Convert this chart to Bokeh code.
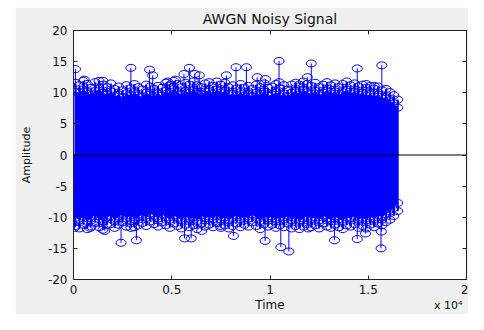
from bokeh.plotting import figure
from bokeh.models import Range1d, LinearAxis, FixedTicker, Span, Title, ColumnDataSource
from bokeh.embed import file_html
from bokeh.resources import INLINE

# ---------------- data ----------------
title = "AWGN Noisy Signal"
x_label = "Time"
y_label = "Amplitude"
x_exponent = "x 10\u2074"
x_ticks = [0, 5000, 10000, 15000, 20000]
x_tick_labels = ["0", "0.5", "1", "1.5", "2"]
y_ticks = [-20, -15, -10, -5, 0, 5, 10, 15, 20]
y_tick_labels = ["-20", "-15", "-10", "-5", "0", "5", "10", "15", "20"]

# sample positions of the dense body of the signal (one every 200 samples)
band_t = list(range(100, 16600, 200))
# outer ring of stem tips (upper / lower edge of the cloud)
upper_tip = [
    11.6, 11.2, 11.9, 11.4, 10.8, 11.7, 11.9, 11.3, 10.9, 11.5,
    10.6, 11.0, 10.4, 11.2, 10.7, 11.4, 10.9, 10.5, 11.3, 11.0,
    10.6, 11.1, 10.8, 11.6, 11.2, 11.9, 11.4, 10.9, 11.6, 11.3,
    11.8, 11.2, 10.9, 11.5, 11.7, 11.1, 11.8, 11.3, 11.6, 10.9,
    11.2, 10.7, 11.4, 10.8, 11.1, 10.6, 11.3, 10.9, 11.5, 10.8,
    11.0, 11.4, 10.7, 11.2, 10.5, 11.3, 11.6, 11.0, 11.8, 11.4,
    11.1, 11.6, 10.9, 11.3, 11.7, 11.2, 11.5, 10.9, 11.4, 11.8,
    11.2, 11.5, 11.0, 11.3, 10.8, 11.1, 10.7, 11.0, 10.4, 10.6,
    10.1, 9.6, 8.9]
lower_tip = [
    -11.4, -11.8, -11.2, -11.9, -11.5, -10.9, -11.6, -12.0, -11.3, -11.1,
    -11.7, -11.2, -10.8, -11.5, -11.0, -11.6, -11.3, -10.9, -11.4, -10.7,
    -11.1, -11.5, -10.8, -11.3, -11.7, -11.0, -11.4, -11.8, -11.2, -11.6,
    -11.3, -11.9, -11.0, -11.5, -11.2, -11.6, -10.9, -11.7, -11.3, -11.8,
    -11.4, -11.0, -11.6, -11.2, -11.5, -10.8, -11.4, -11.9, -11.1, -11.5,
    -11.2, -11.7, -11.3, -11.6, -11.0, -11.8, -11.4, -11.9, -11.5, -11.1,
    -11.6, -11.3, -11.8, -11.0, -11.5, -11.7, -11.2, -11.6, -11.9, -11.3,
    -11.5, -11.1, -11.7, -11.4, -11.8, -11.2, -11.6, -11.0, -11.3, -10.8,
    -10.4, -9.8, -9.0]
# inner (densely filled) part of the cloud
upper_inner = [
    10.2, 10.0, 10.5, 10.1, 9.6, 10.3, 10.6, 10.0, 9.7, 10.2,
    9.4, 9.7, 9.2, 9.9, 9.5, 10.1, 9.6, 9.3, 10.0, 9.7,
    9.3, 9.9, 9.5, 10.3, 9.9, 10.6, 10.1, 9.7, 10.3, 10.0,
    10.5, 9.9, 9.7, 10.2, 10.4, 9.8, 10.5, 10.0, 10.3, 9.6,
    9.9, 9.5, 10.1, 9.5, 9.8, 9.4, 10.0, 9.6, 10.2, 9.5,
    9.7, 10.1, 9.4, 9.9, 9.3, 10.0, 10.3, 9.7, 10.5, 10.1,
    9.8, 10.3, 9.6, 10.0, 10.4, 9.9, 10.2, 9.6, 10.1, 10.5,
    9.9, 10.2, 9.7, 10.0, 9.5, 9.8, 9.4, 9.7, 9.1, 9.3,
    8.8, 8.3, 7.6]
lower_inner = [
    -10.1, -10.5, -9.9, -10.6, -10.2, -9.6, -10.3, -10.7, -10.0, -9.8,
    -10.4, -9.9, -9.5, -10.2, -9.7, -10.3, -10.0, -9.6, -10.1, -9.4,
    -9.8, -10.2, -9.5, -10.0, -10.4, -9.7, -10.1, -10.5, -9.9, -10.3,
    -10.0, -10.6, -9.7, -10.2, -9.9, -10.3, -9.6, -10.4, -10.0, -10.5,
    -10.1, -9.7, -10.3, -9.9, -10.2, -9.5, -10.1, -10.6, -9.8, -10.2,
    -9.9, -10.4, -10.0, -10.3, -9.7, -10.5, -10.1, -10.6, -10.2, -9.8,
    -10.3, -10.0, -10.5, -9.7, -10.2, -10.4, -9.9, -10.3, -10.6, -10.0,
    -10.2, -9.8, -10.4, -10.1, -10.5, -9.9, -10.3, -9.7, -10.0, -9.5,
    -9.1, -8.5, -7.7]

# isolated large stems sticking out of the cloud
peak_t = [100, 550, 1500, 2920, 3870, 4030, 4790, 5190, 5620, 5900,
          6180, 6400, 7780, 8270, 8800, 9350, 9770, 10460, 10460, 11490,
          11900, 12100, 14440, 15690, 14900, 15300,
          50, 850, 1590, 2420, 2920, 3200, 5650, 5990, 6520, 7480,
          8140, 9750, 10550, 10960, 11950, 13280, 14440, 14860, 15650, 15670]
peak_amp = [13.8, 12.1, 11.9, 14.0, 13.7, 12.8, 11.8, 12.1, 13.0, 14.0,
            13.0, 12.8, 12.8, 14.1, 14.1, 12.5, 12.2, 15.1, 11.7, 11.3,
            12.5, 14.7, 13.9, 14.4, 11.4, 11.1,
            -11.7, -11.7, -12.2, -14.1, -11.7, -13.7, -13.4, -13.4, -12.2, -11.4,
            -13.0, -13.8, -14.8, -15.5, -11.8, -13.7, -13.5, -12.6, -15.0, -12.3]

# ---------------- styling ----------------
BLUE = "#0000ff"
FONT = "DejaVu Sans"
TXT = "#111111"
AXC = "#222222"

p = figure(width=453, height=307, output_backend="svg", toolbar_location=None,
           x_range=Range1d(0, 20000), y_range=Range1d(-20, 20),
           min_border_left=58, min_border_right=2, min_border_top=22,
           min_border_bottom=34)
p.margin = (7, 0, 0, 15)
p.background_fill_color = "white"
p.border_fill_color = "#f0f0f0"
p.outline_line_color = AXC
p.grid.visible = False

band = ColumnDataSource(dict(t=band_t, hi=upper_tip, lo=lower_tip,
                             ihi=upper_inner, ilo=lower_inner,
                             zero=[0] * len(band_t)))
peaks = ColumnDataSource(dict(t=peak_t, amp=peak_amp, zero=[0] * len(peak_t)))

# dense body
p.varea(x="t", y1="ilo", y2="ihi", source=band, fill_color=BLUE)
for col in ("ihi", "ilo"):
    p.ellipse(x="t", y=col, width=10, height=7, width_units="screen",
              height_units="screen", source=band, fill_alpha=0,
              line_color=BLUE, line_width=1)
for col in ("hi", "lo"):
    p.segment(x0="t", y0="zero", x1="t", y1=col, source=band,
              line_color=BLUE, line_width=2)
    p.ellipse(x="t", y=col, width=10, height=7, width_units="screen",
              height_units="screen", source=band, fill_alpha=0,
              line_color=BLUE, line_width=1)
# isolated stems
p.segment(x0="t", y0="zero", x1="t", y1="amp", source=peaks,
          line_color=BLUE, line_width=1)
p.ellipse(x="t", y="amp", width=10, height=7, width_units="screen",
          height_units="screen", source=peaks, fill_alpha=0,
          line_color=BLUE, line_width=1)

# stem baseline
p.add_layout(Span(location=0, dimension="width", line_color="black", line_width=1))

# axes (box with inward ticks on all four sides)
p.add_layout(LinearAxis(), "above")
p.add_layout(LinearAxis(), "right")
for ax in p.xaxis:
    ax.ticker = FixedTicker(ticks=x_ticks)
    ax.major_label_overrides = dict(zip(x_ticks, x_tick_labels))
for ax in p.yaxis:
    ax.ticker = FixedTicker(ticks=y_ticks)
    ax.major_label_overrides = dict(zip(y_ticks, y_tick_labels))
for ax in p.axis:
    ax.major_tick_in = 4
    ax.major_tick_out = 0
    ax.minor_tick_line_color = None
    ax.axis_line_color = AXC
    ax.major_tick_line_color = AXC
    ax.major_label_text_font = FONT
    ax.major_label_text_font_size = "12px"
    ax.major_label_text_color = TXT
    ax.axis_label_text_font = FONT
    ax.axis_label_text_font_style = "normal"
    ax.axis_label_text_color = TXT

bx, lx = p.below[0], p.left[0]
bx.major_label_standoff = 5
bx.axis_label = x_label
bx.axis_label_text_font_size = "12px"
bx.axis_label_standoff = 1
lx.major_label_standoff = 6
lx.axis_label = y_label
lx.axis_label_text_font_size = "11px"
lx.axis_label_standoff = 12

ta, ra = p.above[0], p.right[0]
for ax in (ta, ra):
    ax.major_label_text_font_size = "1px"
    ax.major_label_text_color = None
    ax.major_label_standoff = 0
# title carried by the top axis
ta.axis_label = title
ta.axis_label_text_font_size = "14px"
ta.axis_label_standoff = 4

# exponent of the x axis, bottom right (pulled up beside "Time")
p.add_layout(Title(text=x_exponent, align="right", vertical_align="top",
                   text_font=FONT, text_font_size="11px",
                   text_font_style="normal", text_color=TXT,
                   standoff=-31, offset=4), "below")

open("out.html", "w").write(file_html(p, INLINE))
